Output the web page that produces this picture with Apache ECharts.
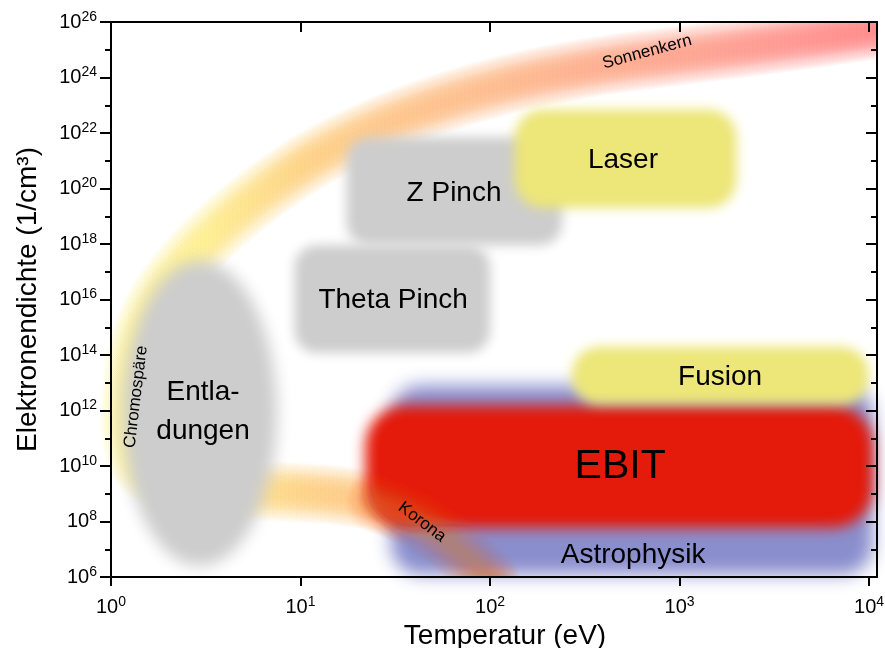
<!DOCTYPE html>
<html><head><meta charset="utf-8">
<script src="https://cdn.jsdelivr.net/npm/echarts@6/dist/echarts.min.js"></script>
<style>html,body{margin:0;padding:0;background:#fff}#c{width:885px;height:648px}</style>
</head><body><div id="c"></div>
<script>
// ---------- DATA ----------
// tick exponents (labels read 10^n)
const xTickExp = [0, 1, 2, 3, 4];
const yTickExp = [6, 8, 10, 12, 14, 16, 18, 20, 22, 24, 26];

// plasma regions: temperature range (eV) and electron density range (1/cm^3)
const regionNames = ['Astrophysik', 'EBIT', 'Entladungen', 'Theta Pinch', 'Z Pinch', 'Laser', 'Fusion'];
const regionTmin  = [30,    22,    1.15,  9.3,    17.5,  135,  270];
const regionTmax  = [10500, 10500, 7.5,   100,    240,   2000, 10000];
const regionNmin  = [1.2e6, 6e7,   2.5e6, 1.2e14, 9e17,  2e19, 1.6e12];
const regionNmax  = [8e12,  1.5e12, 2.5e17, 9e17, 7e21,  7e22, 2e14];

// solar band (Sonnenkern -> Chromosphäre -> Korona), centre line
const bandT = [12000, 4300, 1280, 380, 113, 33.5, 12.7, 6.11, 3.33, 2.18, 1.65, 1.37, 1.275, 1.275, 1.457, 2.18, 4.8, 13.1, 24.7, 42.7, 67.8, 100];
const bandN = [6e25, 2.2e25, 7.6e24, 2.6e24, 4.9e23, 3.5e22, 1.6e21, 5.9e19, 1.8e18, 7.6e16, 4.2e15, 1.5e14, 3.6e12, 1.3e11, 8.5e9, 2.07e9, 1.4e9, 9.8e8, 5e8, 9.6e7, 9.4e6, 9e5];
const koronaStart = 18; // index where the Korona tail crosses EBIT / Astrophysik

// text labels anchored in data space
const labelText = ['Laser', 'Z Pinch', 'Theta Pinch', 'Fusion', 'EBIT', 'Astrophysik', 'Entla-\ndungen', 'Sonnenkern', 'Korona', 'Chromospäre'];
const labelT = [503, 64.6, 30.8, 1636, 486, 569, 3.06, 674, 43.8, 1.355];
const labelN = [1.07e21, 6.9e19, 9.5e15, 1.6e13, 9.1e9, 6.2e6, 8.9e11, 8.3e24, 9.5e7, 3.1e12];

// ---------- STYLES ----------
const FONT = "'Liberation Sans', Arial, Helvetica, sans-serif";
const X_MAX = 4.042;
const OFF = 5000;
const lg = Math.log10;

const regionStyle = {
  'Astrophysik': { color: '#8a8ecd', r: 30, blur: 18, blend: 'source-over' },
  'EBIT':        { color: '#e41a0a', r: 40, blur: 14, blend: 'source-over' },
  'Entladungen': { color: '#cdcdcd', ellipse: true, blur: 16, blend: 'multiply' },
  'Theta Pinch': { color: '#cdcdcd', r: 22, blur: 12, blend: 'multiply' },
  'Z Pinch':     { color: '#cdcdcd', r: 22, blur: 12, blend: 'multiply' },
  'Laser':       { color: '#ede678', r: 28, blur: 12, blend: 'multiply' },
  'Fusion':      { color: '#ede678', r: 28, blur: 12, blend: 'source-over' }
};
const groupA = ['Astrophysik', 'EBIT'];
const groupB = ['Entladungen', 'Theta Pinch', 'Z Pinch', 'Laser', 'Fusion'];

const bandStops = [
  { offset: 0.00, color: 'rgb(250,240,145)' },
  { offset: 0.12, color: 'rgb(250,236,140)' },
  { offset: 0.25, color: 'rgb(250,208,128)' },
  { offset: 0.38, color: 'rgb(250,194,135)' },
  { offset: 0.51, color: 'rgb(250,184,138)' },
  { offset: 0.64, color: 'rgb(250,170,138)' },
  { offset: 0.77, color: 'rgb(250,158,140)' },
  { offset: 0.90, color: 'rgb(252,144,140)' },
  { offset: 1.00, color: 'rgb(255,132,132)' }
];
const koronaColor = 'rgb(238,135,55)';
// soft stroke profile: [lineWidth, alpha]
const bandProfile = [];
for (let w = 60; w >= 40; w -= 2) bandProfile.push([w, 0.06]);
for (let w = 38; w >= 8; w -= 2) bandProfile.push([w, 0.11]);

const labelStyle = {
  'EBIT':        { fontSize: 41 },
  'Sonnenkern':  { fontSize: 17, rotation: 15 },
  'Korona':      { fontSize: 17, rotation: -37 },
  'Chromospäre': { fontSize: 17, rotation: 83 }
};

function regionData(names) {
  return names.map(n => {
    const i = regionNames.indexOf(n);
    return [lg(regionTmin[i]), lg(regionNmin[i]), lg(regionTmax[i]), lg(regionNmax[i])];
  });
}

function renderRegion(names) {
  return function (params, api) {
    const st = regionStyle[names[params.dataIndex]];
    const p0 = api.coord([api.value(0), api.value(3)]);
    const p1 = api.coord([api.value(2), api.value(1)]);
    const x = p0[0], y = p0[1], w = p1[0] - p0[0], h = p1[1] - p0[1];
    const style = { fill: st.color, shadowBlur: st.blur, shadowColor: st.color, shadowOffsetX: -OFF, blend: st.blend };
    if (st.ellipse) {
      const cx = x + w / 2, cy = y + h / 2, pts = [];
      for (let k = 0; k < 90; k++) {
        const a = k / 90 * Math.PI * 2;
        pts.push([cx + OFF + w / 2 * Math.cos(a), cy + h / 2 * Math.sin(a)]);
      }
      return { type: 'polygon', shape: { points: pts }, style: style };
    }
    return { type: 'rect', shape: { x: x + OFF, y: y, width: w, height: h, r: st.r }, style: style };
  };
}

function bandLayers(api, from, strokeFn, alphaScale) {
  const pts = [];
  for (let i = from; i < bandT.length; i++) pts.push(api.coord([lg(bandT[i]), lg(bandN[i])]));
  const top = api.coord([0, 26])[1], bottom = api.coord([0, 6])[1], right = api.coord([X_MAX, 6])[0];
  const children = bandProfile.map(([w, a]) => ({
    type: 'polyline',
    shape: { points: pts, smooth: 0.3 },
    style: { stroke: strokeFn(), lineWidth: w, fill: null, opacity: a * alphaScale, lineCap: 'round', lineJoin: 'round' }
  }));
  return {
    type: 'group', children: children,
    clipPath: { type: 'rect', shape: { x: 0, y: top, width: right, height: bottom - top } }
  };
}

function renderBand(params, api) {
  const gx0 = api.coord([0, 6])[0], gx1 = api.coord([X_MAX, 6])[0];
  return bandLayers(api, 0, () => ({ type: 'linear', x: gx0, y: 0, x2: gx1, y2: 0, global: true,
    colorStops: bandStops.map(s => ({ offset: s.offset, color: s.color })) }), 1);
}
function renderKorona(params, api) {
  return bandLayers(api, koronaStart, () => koronaColor, 0.27);
}

function renderLabel(params, api) {
  const i = params.dataIndex;
  const st = labelStyle[labelText[i]] || {};
  const p = api.coord([api.value(0), api.value(1)]);
  const fs = st.fontSize || 28;
  return {
    type: 'text', x: p[0], y: p[1], rotation: (st.rotation || 0) * Math.PI / 180,
    style: { text: labelText[i], x: 0, y: 0, align: 'center', verticalAlign: 'middle',
      fontSize: fs, fontFamily: FONT, lineHeight: Math.round(fs * 1.38), fill: '#000' }
  };
}

function expLabel(v) {
  const r = Math.round(v);
  if (Math.abs(v - r) > 1e-6) return '';
  return '{b|10}{s|' + r + '}';
}
const RICH = {
  b: { fontSize: 20, lineHeight: 24, fontFamily: FONT, color: '#000' },
  s: { fontSize: 14, lineHeight: 10, verticalAlign: 'top', fontFamily: FONT, color: '#000' }
};
const LINE = { color: '#000', width: 2 };

const chart = echarts.init(document.getElementById('c'), null, { renderer: 'canvas', width: 885, height: 648 });
chart.setOption({
  backgroundColor: '#ffffff',
  animation: false,
  grid: { left: 111, right: 8, top: 22, bottom: 71, containLabel: false, outerBoundsMode: 'none' },
  xAxis: [
    { type: 'value', position: 'bottom', min: 0, max: X_MAX, interval: 1, z: 10,
      name: 'Temperatur (eV)', nameLocation: 'middle', nameGap: 39,
      nameTextStyle: { fontSize: 28, fontFamily: FONT, color: '#000', padding: [0, 0, 0, 22] },
      axisLine: { show: true, onZero: false, lineStyle: LINE },
      axisTick: { show: true, inside: false, length: 9, customValues: xTickExp, lineStyle: LINE },
      axisLabel: { show: true, customValues: xTickExp, margin: 18, formatter: expLabel, rich: RICH },
      splitLine: { show: false } },
    { type: 'value', position: 'top', min: 0, max: X_MAX, interval: 1, z: 10,
      axisLine: { show: true, onZero: false, lineStyle: LINE },
      axisTick: { show: true, inside: true, length: 10, customValues: xTickExp, lineStyle: LINE },
      axisLabel: { show: false }, splitLine: { show: false } }
  ],
  yAxis: [
    { type: 'value', position: 'left', min: 6, max: 26, interval: 2, z: 10,
      name: 'Elektronendichte (1/cm³)', nameLocation: 'middle', nameGap: 69,
      nameTextStyle: { fontSize: 28, fontFamily: FONT, color: '#000' },
      axisLine: { show: true, onZero: false, lineStyle: LINE },
      axisTick: { show: true, inside: false, length: 11, lineStyle: LINE },
      minorTick: { show: true, splitNumber: 2, length: 6, lineStyle: LINE },
      axisLabel: { show: true, margin: 14, formatter: expLabel, rich: RICH },
      splitLine: { show: false }, minorSplitLine: { show: false } },
    { type: 'value', position: 'right', min: 6, max: 26, interval: 2, z: 10,
      axisLine: { show: true, onZero: false, lineStyle: LINE },
      axisTick: { show: true, inside: true, length: 11, lineStyle: LINE },
      minorTick: { show: true, splitNumber: 2, length: 6, lineStyle: LINE },
      axisLabel: { show: false }, splitLine: { show: false }, minorSplitLine: { show: false } }
  ],
  series: [
    { type: 'custom', name: 'band', z: 1, silent: true, clip: false, renderItem: renderBand, data: [[0, 6]] },
    { type: 'custom', name: 'regionsA', z: 2, silent: true, clip: false, renderItem: renderRegion(groupA), data: regionData(groupA) },
    { type: 'custom', name: 'korona', z: 3, silent: true, clip: false, renderItem: renderKorona, data: [[0, 6]] },
    { type: 'custom', name: 'regionsB', z: 4, silent: true, clip: false, renderItem: renderRegion(groupB), data: regionData(groupB) },
    { type: 'custom', name: 'labels', z: 5, silent: true, clip: false, renderItem: renderLabel,
      data: labelT.map((t, i) => [lg(t), lg(labelN[i])]) }
  ]
});
</script>
</body></html>
